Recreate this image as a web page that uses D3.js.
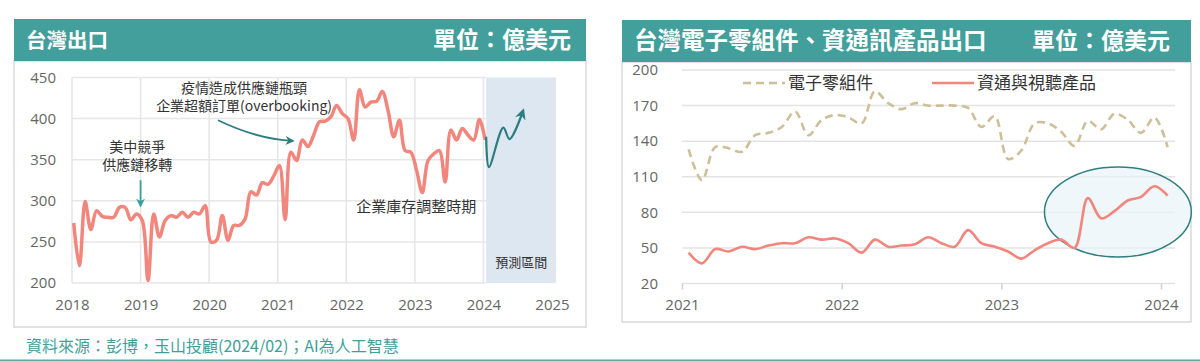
<!DOCTYPE html>
<html lang="zh-Hant">
<head>
<meta charset="UTF-8">
<title>台灣出口</title>
<script src="https://d3js.org/d3.v7.min.js"></script>
<style>
    body { margin: 0; background: #fff; }
    svg { display: block; }
    .tick text { font-family: "Open Sans", "Noto Sans", sans-serif; }
    .cjk { font-family: "Noto Sans CJK TC", "Noto Sans", sans-serif; }
</style>
</head>
<body>
<div id="chart"></div>
<script>
// ---- data ----
// 台灣出口, monthly from 2018-01 to 2024-01 (億美元)
var exportStartYear = 2018;
var exportValues = [
    273, 221, 299, 265, 288, 281, 280, 280, 292, 292, 277, 284,
    276, 203, 284, 256, 276, 282, 280, 286, 280, 286, 284, 294,
    250, 252, 282, 252, 270, 270, 278, 311, 307, 322, 320, 330,
    343, 277, 359, 349, 374, 366, 380, 396, 397, 402, 416, 406,
    400, 374, 435, 414, 420, 421, 433, 410, 378, 398, 361, 359,
    337, 310, 349, 357, 361, 323, 386, 374, 388, 380, 374, 399,
    374
];
// forecast sketch (year, value)
var forecastYears = [2024.04, 2024.08, 2024.29, 2024.38, 2024.58];
var forecastValues = [378, 341, 389, 375, 410];
var leftYTicks = [200, 250, 300, 350, 400, 450];
var leftXTicks = [2018, 2019, 2020, 2021, 2022, 2023, 2024, 2025];

// 電子零組件 / 資通與視聽產品, monthly from 2021-01 to 2024-01
var sectorStartYear = 2021;
var componentValues = [
    133, 107, 135, 134, 131, 145, 147, 152, 165, 145, 158, 162,
    160, 155, 182, 172, 167, 172, 170, 170, 170, 168, 152, 161,
    125, 132, 155, 155, 148, 136, 157, 150, 163, 158, 147, 160,
    135
];
var ictValues = [
    46, 37, 49, 47, 51, 49, 52, 54, 54, 59, 57, 58,
    54, 46, 57, 51, 52, 53, 59, 54, 51, 65, 54, 51,
    47, 41, 48, 54, 57, 50, 92, 75, 81, 90, 93, 102,
    94
];
var rightYTicks = [20, 50, 80, 110, 140, 170, 200];
var rightXTicks = [2021, 2022, 2023, 2024];

var teal = "#439f9b";
var red = "#f2857c";
var tan = "#cdbf98";

var svg = d3.select("#chart").append("svg")
    .attr("width", 1200)
    .attr("height", 362);

var defs = svg.append("defs");
function addArrow(id, color) {
    defs.append("marker")
        .attr("id", id)
        .attr("viewBox", "0 0 10 10")
        .attr("refX", 8).attr("refY", 5)
        .attr("markerWidth", 5).attr("markerHeight", 5)
        .attr("orient", "auto")
        .append("path")
        .attr("d", "M0,0 L10,5 L0,10 L3,5 Z")
        .attr("fill", color);
}
addArrow("arrowDark", "#2b7d80");
addArrow("arrowTeal", "#3a9ea0");

// ---- panels ----
function panel(x, y, w, hh, h, title, titleSize, unitX, unitSize) {
    svg.append("rect")
        .attr("x", x).attr("y", y + hh).attr("width", w).attr("height", h)
        .attr("fill", "#fff").attr("stroke", "#d9d9d9").attr("stroke-width", 1.5);
    svg.append("rect")
        .attr("x", x).attr("y", y).attr("width", w).attr("height", hh)
        .attr("fill", teal);
    svg.append("text").attr("class", "cjk")
        .attr("x", x + 12).attr("y", y + 29)
        .attr("fill", "#fff").attr("font-size", titleSize).attr("font-weight", 700)
        .text(title);
    svg.append("text").attr("class", "cjk")
        .attr("x", unitX).attr("y", y + 29)
        .attr("text-anchor", "end")
        .attr("fill", "#fff").attr("font-size", unitSize).attr("font-weight", 700)
        .text("單位：億美元");
}
panel(14, 19, 572, 42, 266, "台灣出口", 20.5, 571, 23);
panel(622, 20, 569, 42, 260, "台灣電子零組件、資通訊產品出口", 23.5, 1170, 23);

// ---- left chart ----
var xL = d3.scaleLinear().domain([2018, 2025]).range([72, 552]);
var yL = d3.scaleLinear().domain([200, 450]).range([283, 77.5]);

var gL = svg.append("g");

// forecast zone
gL.append("rect")
    .attr("x", xL(2024.04)).attr("y", yL(450))
    .attr("width", xL(2025.06) - xL(2024.04)).attr("height", yL(200) - yL(450))
    .attr("fill", "#dde7f1");

// grid
gL.append("g").selectAll("line").data(leftYTicks).enter().append("line")
    .attr("x1", xL(2018)).attr("x2", xL(2024.04))
    .attr("y1", function (d) { return yL(d); })
    .attr("y2", function (d) { return yL(d); })
    .attr("stroke", "#e6e6e6").attr("stroke-width", 1.5);
gL.append("g").selectAll("line").data(leftXTicks).enter().append("line")
    .attr("x1", function (d) { return xL(d); })
    .attr("x2", function (d) { return xL(d); })
    .attr("y1", yL(450)).attr("y2", yL(200))
    .attr("stroke", "#e6e6e6").attr("stroke-width", 1.5);

// axes
var axL = gL.append("g")
    .attr("transform", "translate(0," + yL(200) + ")")
    .call(d3.axisBottom(xL).tickValues(leftXTicks).tickFormat(d3.format("d")).tickSize(0).tickPadding(16));
var ayL = gL.append("g")
    .attr("transform", "translate(" + (xL(2018) - 14) + ",0)")
    .call(d3.axisLeft(yL).tickValues(leftYTicks).tickSize(0).tickPadding(2));
[axL, ayL].forEach(function (a) {
    a.select(".domain").remove();
    a.selectAll("text").attr("fill", "#666").attr("font-size", 15);
});

var lineL = d3.line()
    .x(function (d, i) { return xL(exportStartYear + (i + 0.3) / 12); })
    .y(function (d) { return yL(d); })
    .curve(d3.curveCatmullRom.alpha(0.5));
gL.append("path")
    .datum(exportValues)
    .attr("d", lineL)
    .attr("fill", "none").attr("stroke", red).attr("stroke-width", 3.5)
    .attr("stroke-linejoin", "round");

var lineF = d3.line()
    .x(function (d) { return xL(d[0]); })
    .y(function (d) { return yL(d[1]); })
    .curve(d3.curveCatmullRom.alpha(0.5));
gL.append("path")
    .datum(forecastYears.map(function (d, i) { return [d, forecastValues[i]]; }))
    .attr("d", lineF)
    .attr("fill", "none").attr("stroke", "#2b7d80").attr("stroke-width", 2.2)
    .attr("marker-end", "url(#arrowDark)");

// annotations
function note(x, y, lines, size, anchor) {
    var t = gL.append("text").attr("class", "cjk")
        .attr("x", x).attr("y", y)
        .attr("text-anchor", anchor || "middle")
        .attr("fill", "#333").attr("font-size", size);
    lines.forEach(function (s, i) {
        t.append("tspan").attr("x", x).attr("dy", i === 0 ? 0 : 18).text(s);
    });
}
note(xL(2018.95), 152, ["美中競爭", "供應鏈移轉"], 14);
gL.append("line")
    .attr("x1", xL(2019)).attr("x2", xL(2019))
    .attr("y1", yL(325)).attr("y2", yL(294))
    .attr("stroke", "#3a9ea0").attr("stroke-width", 1.8)
    .attr("marker-end", "url(#arrowTeal)");

note(xL(2020.51), 93, ["疫情造成供應鏈瓶頸", "企業超額訂單(overbooking)"], 14);
var p0 = [xL(2020.13), yL(398)], p1 = [xL(2020.7), yL(375)], p2 = [xL(2021.22), yL(373)];
gL.append("path")
    .attr("d", "M" + p0 + " Q" + p1 + " " + p2)
    .attr("fill", "none").attr("stroke", "#2b7d80").attr("stroke-width", 1.8)
    .attr("marker-end", "url(#arrowDark)");

note(xL(2023.02), 212, ["企業庫存調整時期"], 15);
note(xL(2024.55), 267, ["預測區間"], 13);

// ---- right chart ----
var xR = d3.scaleLinear().domain([2021, 2024]).range([682, 1161]);
var yR = d3.scaleLinear().domain([20, 200]).range([283.5, 70]);
var gR = svg.append("g");

gR.append("g").selectAll("line").data(rightYTicks).enter().append("line")
    .attr("x1", xR(2021)).attr("x2", 1175)
    .attr("y1", function (d) { return yR(d); })
    .attr("y2", function (d) { return yR(d); })
    .attr("stroke", "#e3e3e3").attr("stroke-width", 1.5);

// highlight ellipse
gR.append("ellipse")
    .attr("cx", xR(2023.73)).attr("cy", yR(80.3))
    .attr("rx", xR(2021.46) - xR(2021)).attr("ry", yR(20) - yR(58))
    .attr("fill", "#eaf3f8").attr("fill-opacity", 0.7)
    .attr("stroke", "#2f7f80").attr("stroke-width", 1.5);

var axR = gR.append("g")
    .attr("transform", "translate(0," + yR(20) + ")")
    .call(d3.axisBottom(xR).tickValues(rightXTicks).tickFormat(d3.format("d")).tickSize(6).tickPadding(10));
var ayR = gR.append("g")
    .attr("transform", "translate(" + (xR(2021) - 24) + ",0)")
    .call(d3.axisLeft(yR).tickValues(rightYTicks).tickSize(0).tickPadding(0));
axR.select(".domain").remove();
axR.selectAll("line").attr("stroke", "#d0d0d0").attr("stroke-width", 1.5);
ayR.select(".domain").remove();
[axR, ayR].forEach(function (a) {
    a.selectAll("text").attr("fill", "#666").attr("font-size", 15);
});

var lineR = d3.line()
    .x(function (d, i) { return xR(sectorStartYear + (i + 0.5) / 12); })
    .y(function (d) { return yR(d); })
    .curve(d3.curveCatmullRom.alpha(0.5));
gR.append("path")
    .datum(componentValues)
    .attr("d", lineR)
    .attr("fill", "none").attr("stroke", tan).attr("stroke-width", 2.6)
    .attr("stroke-dasharray", "8,5");
gR.append("path")
    .datum(ictValues)
    .attr("d", lineR)
    .attr("fill", "none").attr("stroke", red).attr("stroke-width", 2.6);

// legend
var legend = [
    { name: "電子零組件", color: tan, dash: "8,5", x: 743 },
    { name: "資通與視聽產品", color: red, dash: null, x: 932 }
];
legend.forEach(function (l) {
    gR.append("line")
        .attr("x1", l.x).attr("x2", l.x + 42)
        .attr("y1", 83).attr("y2", 83)
        .attr("stroke", l.color).attr("stroke-width", 2.6)
        .attr("stroke-dasharray", l.dash);
    gR.append("text").attr("class", "cjk")
        .attr("x", l.x + 45).attr("y", 89)
        .attr("fill", "#333").attr("font-size", 17)
        .text(l.name);
});

// ---- footer ----
svg.append("text").attr("class", "cjk")
    .attr("x", 26).attr("y", 352)
    .attr("fill", "#3e9f9a").attr("font-size", 16)
    .text("資料來源：彭博，玉山投顧(2024/02)；AI為人工智慧");
svg.append("line")
    .attr("x1", 0).attr("x2", 1200).attr("y1", 360.5).attr("y2", 360.5)
    .attr("stroke", "#5aaeaa").attr("stroke-width", 2);
</script>
</body>
</html>
